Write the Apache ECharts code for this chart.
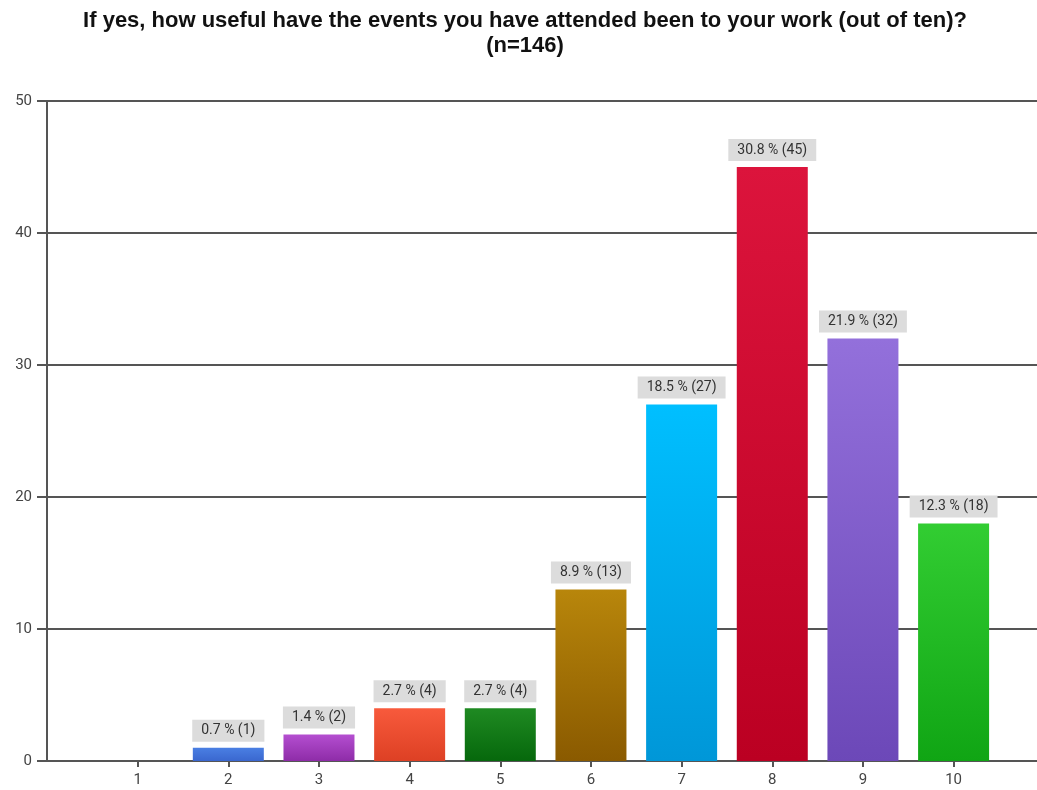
<!DOCTYPE html>
<html>
<head>
<meta charset="utf-8">
<script src="https://cdn.jsdelivr.net/npm/echarts@6/dist/echarts.min.js"></script>
<style>
  html, body { margin: 0; padding: 0; background: #fff; }
  #chart { width: 1037px; height: 790px; }
</style>
</head>
<body>
<div id="chart"></div>
<script>
// Rating scale (out of ten) and responses per rating
const ratings = [1, 2, 3, 4, 5, 6, 7, 8, 9, 10];
const counts = [0, 1, 2, 4, 4, 13, 27, 45, 32, 18];
const percents = [0, 0.7, 1.4, 2.7, 2.7, 8.9, 18.5, 30.8, 21.9, 12.3];
const yTicks = [0, 10, 20, 30, 40, 50];
const barColors = [
  ['#4a7fe3', '#3a67cf'],
  ['#4a7fe3', '#3a67cf'],
  ['#b44ed0', '#8e2ca8'],
  ['#f85a3c', '#dd4024'],
  ['#1f8a22', '#06680c'],
  ['#b8860b', '#8a5a00'],
  ['#00bfff', '#0097d8'],
  ['#dc143c', '#bb0022'],
  ['#9370db', '#6c48b8'],
  ['#32cd32', '#10a514']
];

const chart = echarts.init(document.getElementById('chart'));

const data = ratings.map((r, i) => ({
  value: [r, counts[i]],
  pct: percents[i],
  itemStyle: {
    color: new echarts.graphic.LinearGradient(0, 0, 0, 1, [
      { offset: 0, color: barColors[i][0] },
      { offset: 1, color: barColors[i][1] }
    ])
  },
  label: { show: counts[i] > 0 }
}));

chart.setOption({
  animation: false,
  title: {
    text: 'If yes, how useful have the events you have attended been to your work (out of ten)?\n(n=146)',
    left: 520,
    textAlign: 'center',
    top: 3,
    textStyle: {
      fontFamily: 'Liberation Sans, Arial, sans-serif',
      fontWeight: 'bold',
      fontSize: 22,
      color: '#111',
      lineHeight: 25
    }
  },
  grid: { left: 47, right: 0, top: 101, bottom: 29 },
  xAxis: {
    type: 'value',
    min: 0,
    max: 10.92,
    interval: 1,
    axisLine: { show: true, onZero: false, lineStyle: { color: '#555', width: 2 } },
    axisTick: { show: true, length: 6, customValues: ratings, lineStyle: { color: '#555', width: 2 } },
    axisLabel: {
      color: '#444',
      fontSize: 15,
      fontFamily: 'Roboto, sans-serif',
      margin: 12,
      customValues: ratings,
      formatter: v => String(v)
    },
    splitLine: { show: false }
  },
  yAxis: {
    type: 'value',
    min: yTicks[0],
    max: yTicks[yTicks.length - 1],
    interval: 10,
    axisLine: { show: true, onZero: false, lineStyle: { color: '#555', width: 2 } },
    axisTick: { show: true, length: 10, lineStyle: { color: '#555', width: 2 } },
    axisLabel: { color: '#444', fontSize: 15, fontFamily: 'Roboto, sans-serif', margin: 15 },
    splitLine: { show: true, lineStyle: { color: '#555', width: 2 } }
  },
  series: [{
    type: 'bar',
    barWidth: 71,
    data: data,
    label: {
      position: 'top',
      distance: 6,
      backgroundColor: '#dcdcdc',
      padding: [4, 9, 4, 9],
      color: '#333',
      fontSize: 14,
      fontFamily: 'Roboto, sans-serif',
      formatter: p => p.data.pct.toFixed(1) + ' % (' + p.data.value[1] + ')'
    }
  }]
});
</script>
</body>
</html>
